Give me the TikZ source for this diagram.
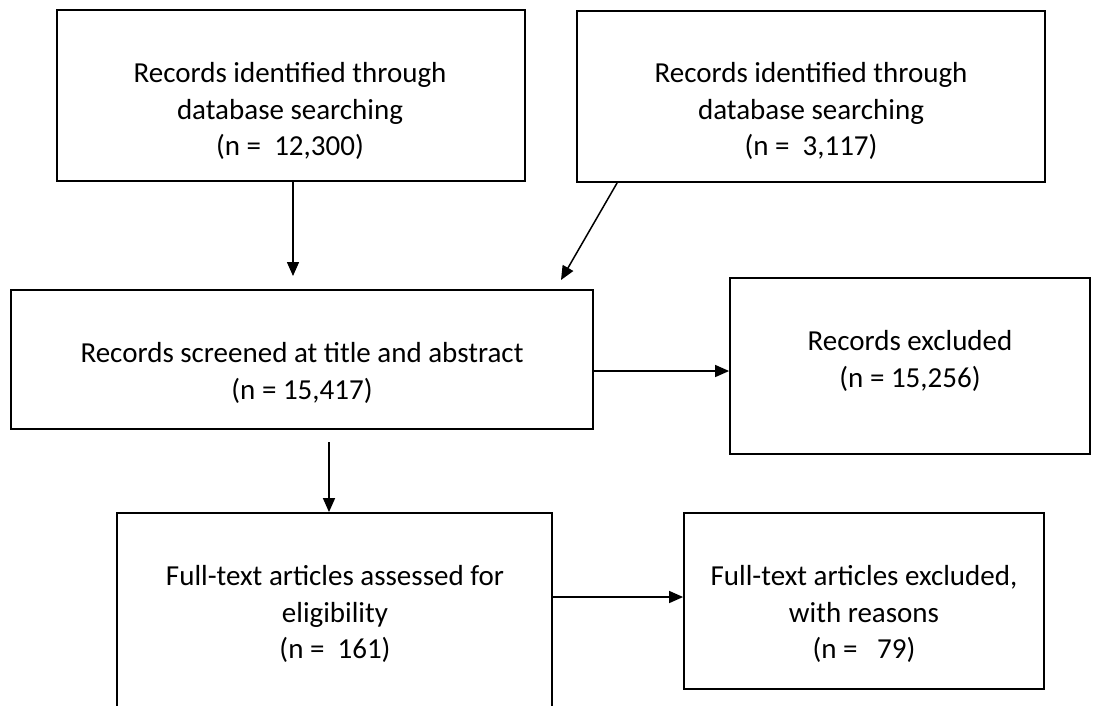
\documentclass[tikz,border=0pt]{standalone}
\usepackage{fontspec}
\setmainfont{Carlito}
\usetikzlibrary{arrows.meta}
\tikzset{
  boxshape/.style={draw=black, line width=1.8pt, rectangle, inner sep=0pt},
  boxtext/.style={align=center, inner sep=0pt, font=\fontsize{29}{36.5}\selectfont},
  arr/.style={draw=black, line width=1.5pt, -{Triangle[length=14pt,width=12pt]}}
}
\begin{document}
\begin{tikzpicture}[x=1pt,y=-1pt]
\useasboundingbox (0,0) rectangle (1096,705);
\clip (0,0) rectangle (1096,705);
% boxes
\node[boxshape, minimum width=468pt, minimum height=171pt] (A) at (291,95.5) {};
\node[boxshape, minimum width=468pt, minimum height=171pt] (B) at (811,96.5) {};
\node[boxshape, minimum width=582pt, minimum height=139pt] (C) at (302,359.5) {};
\node[boxshape, minimum width=360pt, minimum height=176pt] (D) at (910,366) {};
\node[boxshape, minimum width=435pt, minimum height=217pt] (E) at (334.5,621.5) {};
\node[boxshape, minimum width=360pt, minimum height=176pt] (F) at (864,601) {};
% texts
\node[boxtext] (tA) at (290,111) {Records identified through\\database searching\\(n =\ \ 12,300)};
\node[boxtext] (tB) at (811,111) {Records identified through\\database searching\\(n =\ \ 3,117)};
\node[boxtext] (tC) at (302,373) {Records screened at title and abstract\\(n = 15,417)};
\node[boxtext] (tD) at (910,361) {Records excluded\\(n = 15,256)};
\node[boxtext] (tE) at (335,614) {Full-text articles assessed for\\eligibility\\(n =\ \ 161)};
\node[boxtext] (tF) at (864,614) {Full-text articles excluded,\\with reasons\\(n =\ \ \ 79)};
% connector helpers
\coordinate (tipAC) at (293,276);
\coordinate (tipBC) at (561,280);
\coordinate (yCD) at (0,371);
\coordinate (startCE) at (329,442);
\coordinate (yEF) at (0,597);
% connectors
\draw[arr] (A.south -| tipAC) -- (tipAC);
\draw[arr] ([xshift=41pt]B.south west) -- (tipBC);
\draw[arr] (C.east |- yCD) -- (D.west |- yCD);
\draw[arr] (startCE) -- (E.north -| startCE);
\draw[arr] (E.east |- yEF) -- (F.west |- yEF);
\end{tikzpicture}
\end{document}
